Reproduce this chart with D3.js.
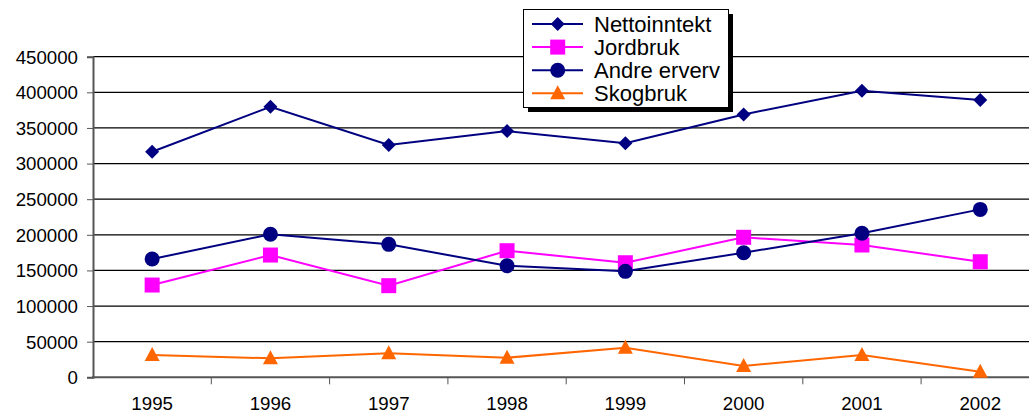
<!DOCTYPE html>
<html><head><meta charset="utf-8">
<script src="https://cdn.jsdelivr.net/npm/d3@7"></script>
<style>html,body{margin:0;padding:0;background:#fff;}svg{display:block;font-family:"Liberation Sans",Arial,sans-serif;}</style>
</head><body>
<svg id="c" width="1029" height="414"></svg>
<script>
const years = ["1995","1996","1997","1998","1999","2000","2001","2002"];
const nettoinntekt = [316600, 379700, 326000, 345600, 328400, 369000, 402200, 389100];
const jordbruk     = [129500, 171600, 128600, 177700, 160800, 196500, 185700, 162200];
const andreErverv  = [166000, 200700, 186600, 156600, 148700, 174900, 202100, 235700];
const skogbruk     = [31300, 26700, 33700, 27500, 41500, 15900, 31300, 7900];
const yTicks = [0, 50000, 100000, 150000, 200000, 250000, 300000, 350000, 400000, 450000];
const seriesNames = ["Nettoinntekt", "Jordbruk", "Andre erverv", "Skogbruk"];

const series = [
  {name: seriesNames[0], values: nettoinntekt, color: "#000080", marker: "diamond"},
  {name: seriesNames[1], values: jordbruk, color: "#FF00FF", marker: "square"},
  {name: seriesNames[2], values: andreErverv, color: "#000080", marker: "circle"},
  {name: seriesNames[3], values: skogbruk, color: "#FF6600", marker: "triangle"}
];

const svg = d3.select("#c");
const left = 93, bandW = 118.3;
const x = d3.scaleBand().domain(years).range([left, left + bandW * years.length]).paddingInner(0).paddingOuter(0);
const y = d3.scaleLinear().domain([0, 450000]).range([377.3, 56.7]);

// gridlines
svg.append("g").selectAll("line").data(yTicks.filter(d => d > 0)).join("line")
  .attr("x1", left).attr("x2", 1029)
  .attr("y1", d => y(d)).attr("y2", d => y(d))
  .attr("stroke", "#000").attr("stroke-width", 1.2);

// y axis
const yAxis = d3.axisLeft(y).tickValues(yTicks).tickSize(6).tickPadding(9).tickFormat(d3.format("d"));
const gy = svg.append("g").attr("transform", `translate(${left},0)`).call(yAxis);
gy.select(".domain").attr("stroke", "#555").attr("stroke-width", 2);
gy.selectAll(".tick line").attr("stroke", "#555").attr("stroke-width", 1);
gy.selectAll("text").attr("font-size", "18.7px").attr("fill", "#000").attr("font-family", "Liberation Sans, Arial, sans-serif").attr("dy", "0.34em");

// x axis
const gx = svg.append("g").attr("transform", `translate(0,${y(0)})`);
gx.append("line").attr("x1", left - 1).attr("x2", 1029).attr("y1", 0).attr("y2", 0).attr("stroke", "#555").attr("stroke-width", 2);
gx.selectAll("line.tk").data(years.slice(1)).join("line").attr("class", "tk")
  .attr("x1", d => x(d)).attr("x2", d => x(d)).attr("y1", 0).attr("y2", 7)
  .attr("stroke", "#555").attr("stroke-width", 1);
gx.selectAll("text").data(years).join("text")
  .attr("x", d => x(d) + x.bandwidth() / 2).attr("y", 32.5)
  .attr("text-anchor", "middle").attr("font-size", "18.7px").attr("fill", "#000").text(d => d);

const cx = d => x(d) + x.bandwidth() / 2;

function drawMarker(g, type, color) {
  if (type === "diamond") g.append("path").attr("d", "M0,-7L7,0L0,7L-7,0Z").attr("fill", color);
  else if (type === "square") g.append("rect").attr("x", -7.5).attr("y", -7.5).attr("width", 15).attr("height", 15).attr("fill", color);
  else if (type === "circle") g.append("circle").attr("r", 7.5).attr("fill", color);
  else if (type === "triangle") g.append("path").attr("d", "M0,-8L7.5,6L-7.5,6Z").attr("fill", color);
}

const line = d3.line().x((d, i) => cx(years[i])).y(d => y(d));
series.forEach(s => {
  svg.append("path").attr("d", line(s.values)).attr("fill", "none").attr("stroke", s.color).attr("stroke-width", 2);
  s.values.forEach((v, i) => {
    const g = svg.append("g").attr("transform", `translate(${cx(years[i])},${y(v)})`);
    drawMarker(g, s.marker, s.color);
  });
});

// legend
const lg = svg.append("g");
lg.append("rect").attr("x", 528).attr("y", 14).attr("width", 205).attr("height", 98).attr("fill", "#000");
lg.append("rect").attr("x", 523.5).attr("y", 9.5).attr("width", 205).attr("height", 98).attr("fill", "#fff").attr("stroke", "#000").attr("stroke-width", 1);
series.forEach((s, i) => {
  const yy = 24 + i * 23.1;
  lg.append("line").attr("x1", 532).attr("x2", 583).attr("y1", yy).attr("y2", yy).attr("stroke", s.color).attr("stroke-width", 2);
  const g = lg.append("g").attr("transform", `translate(557.7,${yy})`);
  drawMarker(g, s.marker, s.color);
  lg.append("text").attr("x", 594).attr("y", yy + 8).attr("font-size", "22px").attr("fill", "#000").text(s.name);
});
</script>
</body></html>
